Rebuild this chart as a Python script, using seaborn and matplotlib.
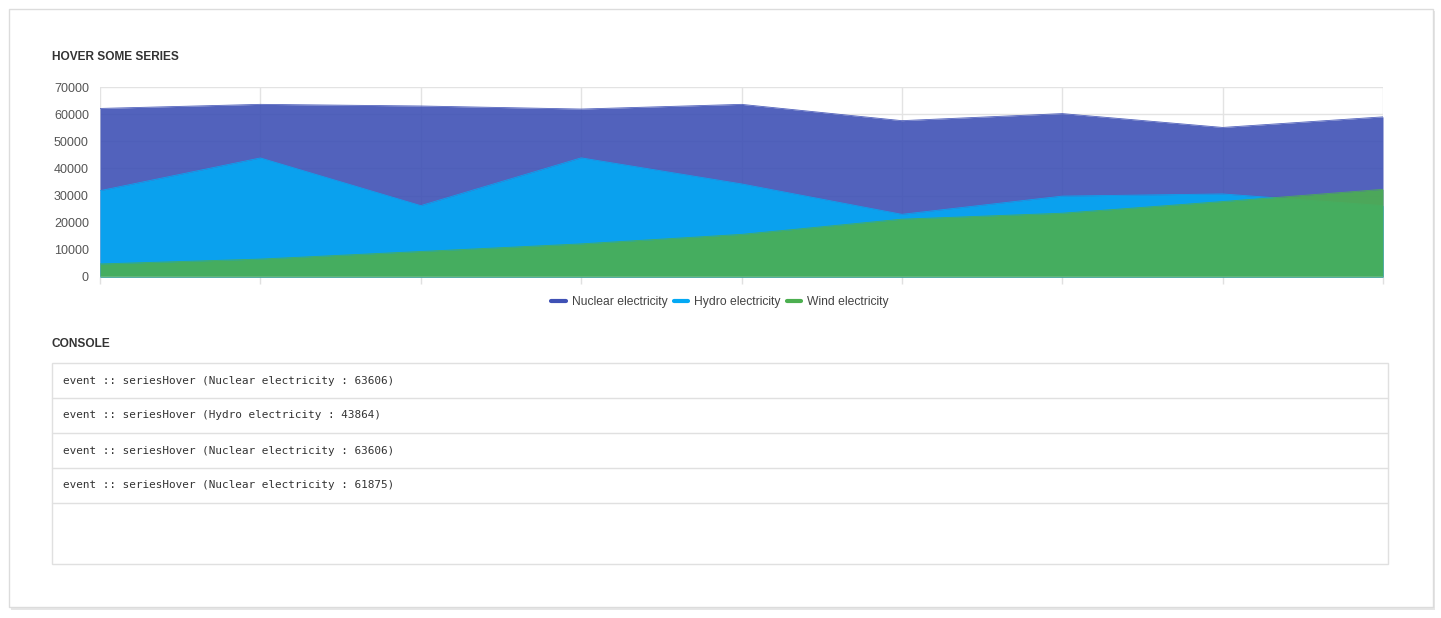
import matplotlib
matplotlib.use("Agg")
import matplotlib.pyplot as plt
from matplotlib.patches import Rectangle
from matplotlib.lines import Line2D
import seaborn as sns
import pandas as pd

# values
points = list(range(9))
nuclear = [62100, 63606, 63000, 61875, 63606, 57600, 60200, 55100, 59000]
hydro = [31800, 43864, 26300, 43900, 34300, 23100, 29800, 30600, 26300]
wind = [4800, 6600, 9400, 12200, 15700, 21300, 23500, 27800, 32300]

series_names = ["Nuclear electricity", "Hydro electricity", "Wind electricity"]
series_colors = ["#3F51B5", "#03A9F4", "#4CAF50"]
yticks = [0, 10000, 20000, 30000, 40000, 50000, 60000, 70000]

console_lines = [
    "event :: seriesHover (Nuclear electricity : 63606)",
    "event :: seriesHover (Hydro electricity : 43864)",
    "event :: seriesHover (Nuclear electricity : 63606)",
    "event :: seriesHover (Nuclear electricity : 61875)",
]

df = pd.DataFrame({"x": points, series_names[0]: nuclear,
                   series_names[1]: hydro, series_names[2]: wind})
long_df = df.melt(id_vars="x", var_name="series", value_name="value")

sns.set_style("white")
plt.rcParams["font.family"] = ["Liberation Sans", "DejaVu Sans"]

W, H = 1441, 618
fig = plt.figure(figsize=(W / 100, H / 100), dpi=100)
fig.patch.set_facecolor("white")


def fx(x):
    return x / W


def fy(y):
    return 1 - y / H


# card with shadow
fig.patches.append(Rectangle((fx(11), fy(610)), 1424 / W, 599 / H, transform=fig.transFigure,
                             facecolor="#e6e6e6", edgecolor="none", zorder=0))
fig.patches.append(Rectangle((fx(9), fy(607)), 1424 / W, 598 / H, transform=fig.transFigure,
                             facecolor="white", edgecolor="#dcdcdc", lw=1, zorder=1))

fig.text(fx(52), fy(57), "HOVER SOME SERIES", fontsize=8.6, fontweight="bold",
         color="#333333", va="center", ha="left")
fig.text(fx(52), fy(344), "CONSOLE", fontsize=8.6, fontweight="bold",
         color="#333333", va="center", ha="left")

ax = fig.add_axes([fx(100), fy(277), 1283 / W, 190 / H])
ax.set_zorder(5)
ax.set_facecolor("none")
for name, color in zip(series_names, series_colors):
    sub = long_df[long_df["series"] == name]
    ax.fill_between(sub["x"], sub["value"], color=color, alpha=0.9, lw=0, zorder=2)
    sns.lineplot(data=sub, x="x", y="value", color=color, alpha=0.9, lw=0.6,
                 ax=ax, legend=False, zorder=2)

ax.set_xlim(0, 8)
ax.set_ylim(0, 70000)
ax.set_xticks(points)
ax.set_xticklabels([])
ax.set_yticks(yticks)
ax.set_yticklabels([str(v) for v in yticks], fontsize=9, color="#555555")
ax.set_xlabel("")
ax.set_ylabel("")
ax.grid(True, color="#e3e3e3", lw=1, zorder=0)
ax.set_axisbelow(True)
ax.tick_params(axis="x", bottom=True, length=5, color="#e0e0e0", width=1)
ax.tick_params(axis="y", left=False, length=0, pad=8)
for s in ax.spines.values():
    s.set_visible(False)
ax.axhline(0, color="#e0e0e0", lw=1, zorder=3)

handles = [Line2D([0], [0], color=c, lw=3) for c in series_colors]
fig.legend(handles, series_names, loc="center", bbox_to_anchor=(fx(720), fy(302)),
           ncol=3, frameon=False, fontsize=8.7, handlelength=1.2, handletextpad=0.5,
           columnspacing=0.5, labelcolor="#444444")

# console box
box_left, box_right = 52, 1388
row_edges = [363, 398, 433, 468, 503, 564]
fig.patches.append(Rectangle((fx(box_left), fy(564)), (box_right - box_left) / W, (564 - 363) / H,
                             transform=fig.transFigure, facecolor="white",
                             edgecolor="#e0e0e0", lw=1, zorder=2))
for y in row_edges[1:-1]:
    fig.add_artist(Line2D([fx(box_left), fx(box_right)], [fy(y), fy(y)],
                          color="#e0e0e0", lw=1, transform=fig.transFigure, zorder=3))
for i, line in enumerate(console_lines):
    ymid = (row_edges[i] + row_edges[i + 1]) / 2
    fig.text(fx(63), fy(ymid), line, fontsize=7.9, family="DejaVu Sans Mono",
             color="#333333", va="center", ha="left", zorder=4)

fig.savefig("out.png", dpi=100)
